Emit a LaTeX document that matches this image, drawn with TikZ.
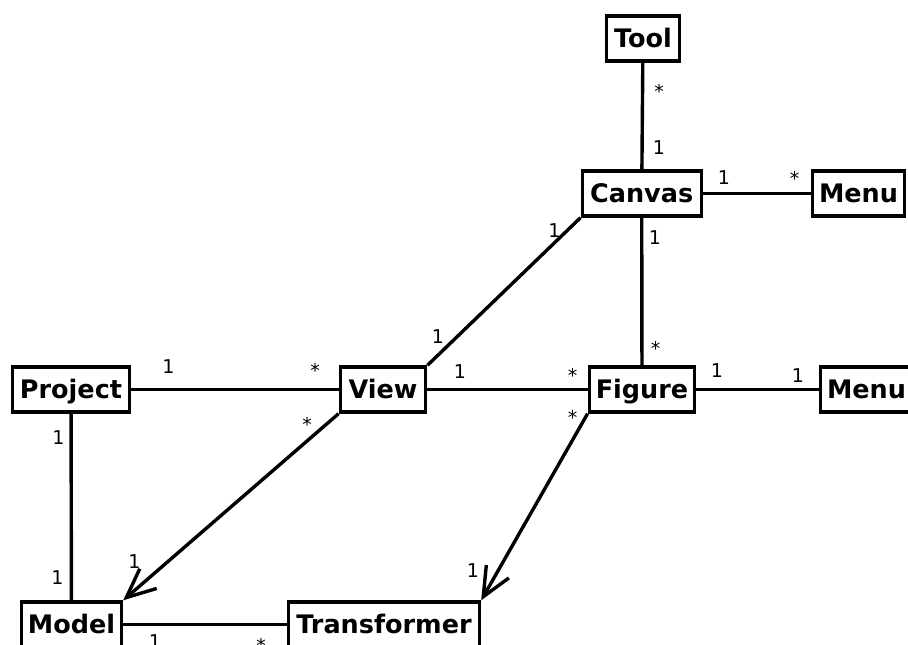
\documentclass[tikz,border=0pt]{standalone}
\usepackage{fontspec}
\setmainfont{DejaVu Sans}
\usetikzlibrary{arrows.meta}
\begin{document}
\begin{tikzpicture}[x=1pt,y=-1pt,
  cls/.style={draw, line width=3.4pt, font=\fontsize{25.5}{30}\selectfont\bfseries,
    text height=18.6pt, text depth=0pt, inner sep=0pt, minimum height=45pt},
  assoc/.style={line width=3.4pt},
  nav/.style={assoc, -{Straight Barb[length=29pt,width=26pt]}},
  mult/.style={font=\fontsize{19}{23}\selectfont, inner sep=0pt, anchor=base}
]
\useasboundingbox (0,0) rectangle (908,645);

% classes
\node[cls, minimum width=73pt]  (tool)        at (643,38.5)    {Tool};
\node[cls, minimum width=119pt] (canvas)      at (641.7,193.5) {Canvas};
\node[cls, minimum width=92.5pt](menuA)       at (858.5,193.5) {Menu};
\node[cls, minimum width=117pt] (project)     at (71,389.5)    {Project};
\node[cls, minimum width=85.5pt](view)        at (383,389.5)   {View};
\node[cls, minimum width=105.5pt](figure)     at (642,389.5)   {Figure};
\node[cls, minimum width=92.5pt](menuB)       at (866.5,389.5) {Menu};
\node[cls, minimum width=100pt] (model)       at (71.5,624.5)  {Model};
\node[cls, minimum width=191pt] (transformer) at (384,624.5)   {Transformer};

% associations
\draw[assoc] (tool) -- (canvas);
\draw[assoc] (canvas) -- (menuA);
\draw[assoc] (canvas.south west) -- (view.north east);
\draw[assoc] (canvas) -- (figure);
\draw[assoc] (project) -- (view);
\draw[assoc] (view) -- (figure);
\draw[assoc] (figure) -- (menuB);
\draw[assoc] (project) -- (model);
\draw[nav] (view.south west) -- (model.north east);
\draw[nav] (figure.south west) -- (transformer.north east);
\draw[assoc] (model) -- (transformer);

% multiplicities
\node[mult] (m1)  at (659,98.5)   {*};
\node[mult] (m2)  at (659,154)    {1};
\node[mult] (m3)  at (724,184)    {1};
\node[mult] (m4)  at (794.5,185)  {*};
\node[mult] (m5)  at (554.5,237)  {1};
\node[mult] (m6)  at (438,343)    {1};
\node[mult] (m7)  at (655,244)    {1};
\node[mult] (m8)  at (655.5,355)  {*};
\node[mult] (m9)  at (168.5,373)  {1};
\node[mult] (m10) at (315,377.5)  {*};
\node[mult] (m11) at (460,378)    {1};
\node[mult] (m12) at (572.5,382.5){*};
\node[mult] (m13) at (717,377.7)  {1};
\node[mult] (m14) at (798,382)    {1};
\node[mult] (m15) at (58.5,444)   {1};
\node[mult] (m16) at (57.5,584)   {1};
\node[mult] (m17) at (307,431)    {*};
\node[mult] (m18) at (134.5,568)  {1};
\node[mult] (m19) at (572.5,424.5){*};
\node[mult] (m20) at (473,577)    {1};
\node[mult] (m21) at (155,648)    {1};
\node[mult] (m22) at (261,652)    {*};
\end{tikzpicture}
\end{document}
